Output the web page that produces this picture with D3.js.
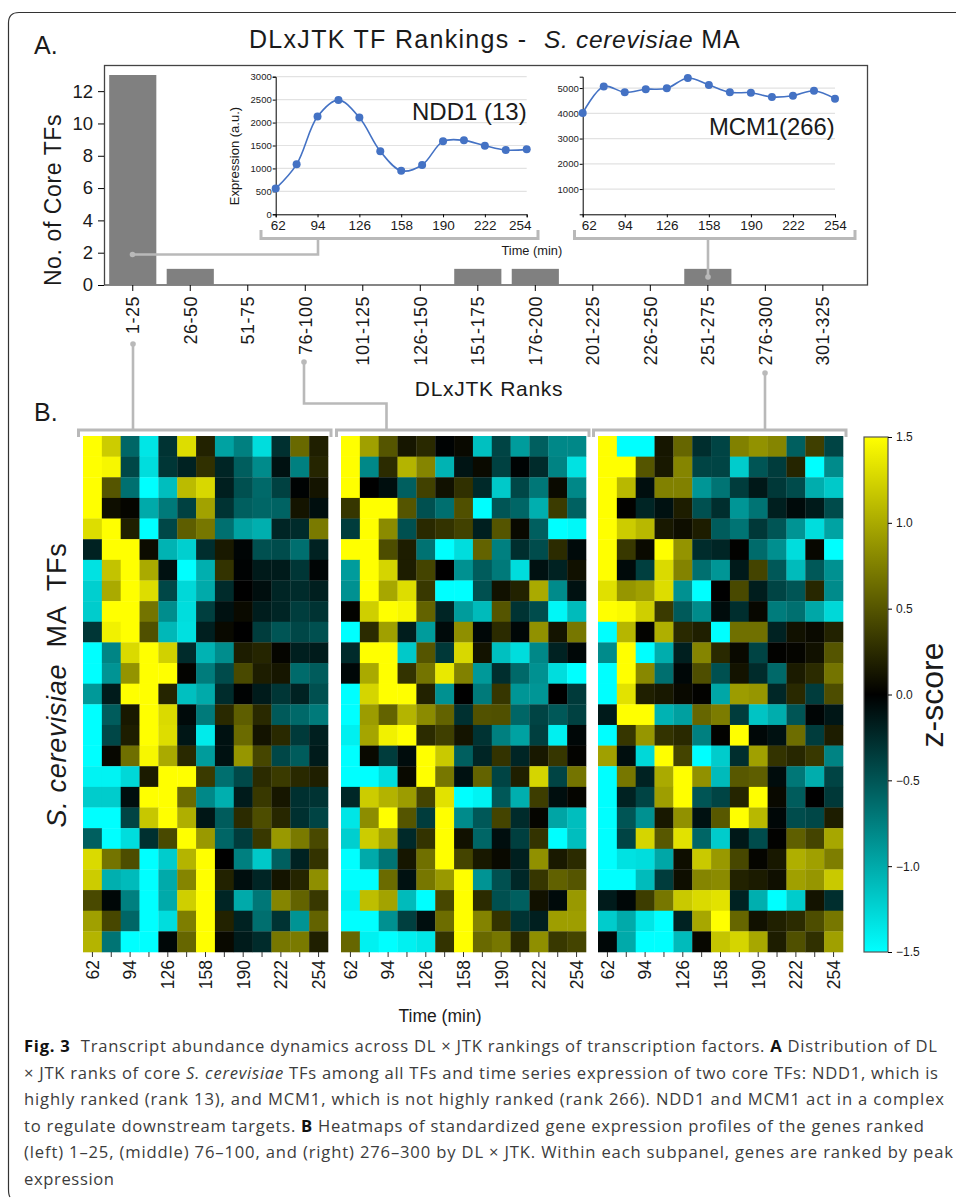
<!DOCTYPE html>
<html>
<head>
<meta charset="utf-8">
<script src="https://cdn.jsdelivr.net/npm/d3@7"></script>
<style>
	html, body { margin: 0; padding: 0; background: #fff; }
	svg { display: block; }
	text { font-family: "Liberation Sans", Arial, sans-serif; fill: #1a1a1a; }
	.caption text { font-family: "Open Sans", sans-serif; fill: #3c3c3c; font-size: 16.6px; }
</style>
</head>
<body>
<svg id="fig" width="956" height="1198"></svg>
<script>
var rankBins = ["1-25", "26-50", "51-75", "76-100", "101-125", "126-150", "151-175", "176-200", "201-225", "226-250", "251-275", "276-300", "301-325"];
var coreTFCounts = [13, 1, 0, 0, 0, 0, 1, 1, 0, 0, 1, 0, 0];

var times = [62, 78, 94, 110, 126, 142, 158, 174, 190, 206, 222, 238, 254];
var timeTicks = [62, 94, 126, 158, 190, 222, 254];
var ndd1Values = [560, 1090, 2130, 2490, 2110, 1375, 950, 1075, 1590, 1612, 1496, 1400, 1416];
var mcm1Values = [4010, 5065, 4830, 4950, 4990, 5400, 5120, 4830, 4815, 4645, 4695, 4895, 4580];
var ndd1Ticks = [0, 500, 1000, 1500, 2000, 2500, 3000];
var mcm1Ticks = [1000, 2000, 3000, 4000, 5000];
var zTicks = [-1.5, -1, -0.5, 0, 0.5, 1, 1.5];

var heatLeft = [
	[1.5, 1.2, -0.6, -1.35, -0.3, 1.3, 0.2, -0.95, -0.75, -1.3, -0.28, 0.62, 0.18],
	[1.5, 1.45, -0.42, -1.3, -0.32, -0.2, 0.28, -0.22, -0.55, -0.82, -0.1, -0.75, 0.22],
	[1.5, 0.5, -0.66, -1.5, -1.12, 1.1, 1.27, -0.18, -0.47, -0.62, -0.38, -0.02, 0.12],
	[1.5, 0.08, 0.03, -1, -0.72, -0.38, 0.95, -0.3, -0.56, -0.6, -0.58, 0.12, -0.08],
	[1.3, 1.5, 0.18, -1.5, -0.42, 0.55, 0.7, -0.66, -0.95, -1.03, -0.22, -0.25, 0.72],
	[-0.2, 1.5, 1.5, 0.07, -1.05, -1.22, -0.27, 0.15, -0.03, -0.47, -0.45, -0.65, -0.2],
	[-1.33, 1.15, 1.5, 1, -0.1, -1.5, -1.03, 0.3, -0.02, -0.15, -0.16, -0.32, -0.03],
	[-1.22, 1, 1.5, 1.3, -0.42, -1.27, -1, -0.25, 0, -0.08, -0.22, -0.25, -0.18],
	[-1.2, 1.5, 1.5, 0.68, -0.83, -1.3, -0.37, -0.1, 0.06, -0.17, -0.22, -0.36, -0.3],
	[-0.32, 1.42, 1.5, 0.47, -1.08, -1.32, -0.18, 0.05, 0, -0.36, -0.5, -0.42, -0.47],
	[-1.5, -0.78, 1.28, 1.5, 1.23, -0.25, -1.05, -0.83, 0.17, 0.22, 0.03, -0.18, -0.16],
	[-1.5, -0.87, 0.87, 1.5, 1.5, 0.02, -0.73, -0.44, 0.43, 0.17, 0.13, -0.63, -0.54],
	[-0.9, -0.16, 1.5, 1.5, 0.22, -1.13, -1, -0.26, -0.02, -0.16, -0.32, -0.2, -0.47],
	[-1.5, -0.54, 0.14, 1.5, 1.28, -0.06, -0.72, 0.24, 0.55, 0.24, -0.53, -0.62, -0.72],
	[-1.5, -0.42, 0.17, 1.5, 1.3, -0.13, -1.38, -0.1, 0.63, 0.11, 0.24, -0.34, -0.18],
	[-1.5, 0.04, 0.65, 1.45, 1, 0.24, -0.92, -0.1, 0.88, 0.41, -0.42, -0.54, -0.16],
	[-1.43, -1.43, -1.27, 0.16, 1.5, 1.5, 0.34, -0.65, -0.43, 0.25, 0.34, 0.24, 0.18],
	[-1.2, -1.2, -0.08, 1.5, 1.5, 0.63, -0.8, -1.03, -0.16, 0.33, 0.13, -0.28, -0.3],
	[-1.5, -1.5, -0.4, 1.17, 1.5, 1.03, -0.13, -0.54, 0.25, 0.45, 0.23, -0.28, -0.4],
	[-0.56, -1.5, -1.3, -0.28, 0.43, 1.5, 0.9, -0.6, -0.35, 0.33, 0.9, 0.72, 0.43],
	[1.28, 0.68, 0.45, -1.5, -1.2, 1.06, 1.5, 0, -0.75, -1.18, -0.56, -0.2, 0.3],
	[1.2, -1.03, -1.1, -1.5, -1, 0.78, 1.5, 0.2, -0.08, -0.22, 0.12, 0.22, 0.84],
	[0.43, -0.04, -0.75, -1.5, -1, 1.22, 1.5, -0.22, -1, -0.7, 0.78, 0.58, 0.33],
	[0.94, 0.42, -0.6, -1.5, -1.3, 0.74, 1.5, 0.2, -0.2, -0.65, -0.3, -0.87, 0.58],
	[1.06, -0.68, -1.5, -1.5, -0.04, 0.6, 1.5, 0.05, -0.16, -0.25, 0.7, 0.72, 0.18]
];

var heatMiddle = [
	[1.5, 0.94, 0.5, 0.13, 0.24, -0.02, 0.05, -1.13, -0.4, -0.92, -0.56, -0.8, -0.8],
	[1.5, -0.8, 0.25, 1.06, 0.78, -1.05, -0.12, 0.06, -0.38, -0.02, -0.25, -0.77, -1.33],
	[1.5, 0, -0.08, -0.56, 0.38, 0.1, 0.28, -0.24, -1.18, -0.42, -0.7, 0.06, -0.8],
	[0.32, 1.5, 1.5, 0.5, -0.47, -0.65, 0.47, -1.5, -0.5, -0.6, -1.03, 0.35, -0.57],
	[-0.35, 1.5, 0.82, -0.47, 0.24, 0.3, 0.38, -0.18, 0.5, 0.05, -0.56, -1.5, -1.46],
	[1.5, 1.5, 0.45, 0.17, -0.67, -1.5, -1.3, 0.58, -0.75, -0.27, -0.45, 0.25, -0.06],
	[-0.92, 1.5, 1.25, 0.17, 0.4, 0, -0.85, -0.54, -0.72, -1.3, -0.1, -0.2, 0.1],
	[-0.85, 1.5, 0.98, 1.3, 0.33, -1.5, -1.5, -0.47, 0.1, 0.2, 1, -0.82, -0.1],
	[0.02, 1.22, 1.5, 1.45, 0.58, -0.22, -0.92, -1.1, 0.5, -0.3, -0.45, -1.45, -1.1],
	[-1.5, 0.25, 0.94, -0.17, -0.92, -0.06, 0.84, -0.04, 0.25, -0.04, 0.85, 0.12, 0.7],
	[-0.25, 1.5, 1.5, -1.18, 0.5, -0.33, 1.27, 0.11, -1.13, -1.3, -0.8, -0.2, -0.04],
	[-0.04, 1, 1.5, 0.3, 0.68, 1.37, 0.76, -0.9, -0.27, -0.62, -0.85, -1.3, -1.5],
	[-1.5, 1.25, 1.5, 1.5, 0.2, -0.85, 0, -0.72, 0.32, -0.88, -0.88, 0, -0.34],
	[-1.5, 0.92, 0.58, 1.06, 0.82, 0.58, -0.28, 0.48, 0.47, -0.6, -0.4, -0.52, -0.38],
	[-1.41, 0.97, 1.42, 1.5, 0.25, 0.37, 0.12, -0.3, -0.75, -0.95, -0.37, -1.41, -0.04],
	[-1.5, 0.05, -0.35, -0.07, 1.5, 1.18, -0.56, -0.22, 0.3, -0.22, 0.14, 0.32, 0.02],
	[-1.5, -1.5, -1.3, 0.05, 1.5, 0.7, -0.1, 0.58, -0.4, 0.18, 1.25, -0.4, 0.68],
	[-0.23, 1.2, 1.05, 0.92, 0.4, 1.33, -1.5, -1.43, -0.52, -1.03, 0.36, -0.08, 0.03],
	[-1.35, 0.83, 1.5, 0.5, -0.35, 1.5, -0.82, -0.52, 0.4, -0.25, 0.03, -0.97, -1.12],
	[-1.22, 1.2, 0.96, -0.24, 0.3, 1.5, 0.1, -0.6, -0.08, -0.37, 0.3, -1.5, -1.12],
	[-1.5, -1, -0.68, 0.13, 0.66, 1.5, 0.4, 0.14, 0.05, -0.18, 0.85, 0.15, 0.25],
	[-1.5, -1.5, 0.63, -0.1, 0.7, 0.9, 1.5, -0.87, -0.47, -0.23, 0.32, 0.57, 0.5],
	[-1.42, 1.12, 0.96, -1.1, -1.5, 0.42, 1.5, 0.25, -0.47, -0.56, 0.1, -0.06, 0.9],
	[-1.5, -1.5, -0.85, -0.37, -0.08, 0.64, 1.5, 0.77, 0.3, -0.3, -0.18, 0.93, 0.93],
	[0.6, -1.42, -1.5, -1.42, -1.36, 0.3, 1.5, 0.62, 0.7, 0.24, 0.84, 0.33, 0.4]
];

var heatRight = [
	[1.5, -1.5, -1.5, 0.13, 0.6, -0.27, -0.4, 0.76, 0.86, 0.78, -0.56, 0.37, -0.4],
	[1.5, 1.5, 0.5, 0.14, 0.78, -0.4, -0.4, -1.2, -0.5, -0.35, 0.22, -1.5, -0.82],
	[1.5, 1.08, -0.08, 0.76, 0.76, -0.88, -0.68, -0.35, -0.14, -0.33, -0.44, -1.02, -1.18],
	[1.5, 0.01, -0.22, -0.1, 0.17, -0.47, -0.27, -0.88, -0.68, -0.18, -0.06, -0.15, -0.44],
	[1.5, 1.2, 1.08, 0.14, 0.08, 0.17, -0.54, -0.68, -0.33, -0.5, -0.87, -1.3, -0.96],
	[1.5, 0.33, 0.06, 1.5, 0.87, -0.26, -0.22, 0.01, -0.63, -0.84, -1.3, 0.04, -1.5],
	[1.5, -0.06, -0.37, 1.28, 0.77, -0.66, -0.88, -0.15, 0.4, -0.52, -1.1, -0.52, -0.85],
	[1.32, 0.88, 0.94, 1.3, -0.85, -1.5, 0, 0.43, -0.17, -0.4, -0.5, 0.23, -0.82],
	[1.5, 1.47, 1.22, 0.34, -0.53, -0.82, -0.07, -0.27, 0.04, -0.73, -0.66, -0.98, -1.27],
	[-1.5, 1.07, 0.02, 1.03, 0.24, 0.18, -1.5, 0.66, 0.66, -0.2, 0.1, 0.06, 0.2],
	[-0.82, 1.5, -1.5, -1.02, -0.18, 0.78, 0.24, 0.05, -0.4, 0.01, 0.03, 0.1, 0.5],
	[-1.5, 1.5, 0.8, -0.65, -0.04, 0.46, -0.47, 0.11, -0.25, -0.62, 0.16, 0.25, 0.68],
	[-1.5, 1.33, 0.18, 0.14, 0.05, 0.01, -0.98, 0.92, 0.88, -0.23, 0.24, -0.35, 0.45],
	[-0.15, 1.5, 1.5, -1.05, -0.94, 0.6, 0.73, -0.35, -1.15, -1.02, -0.5, -0.03, -0.13],
	[-1.5, 0.32, 0.88, 0.3, 0.24, -0.75, 0.01, 1.5, -0.04, -0.1, 0.64, -0.35, 0.17],
	[0.94, -0.08, -1.27, 1.5, 0.4, -1.5, -1.2, -0.27, 0.94, 0.3, 0.23, 0.33, -0.77],
	[-1.5, 0.7, -0.2, 1, 1.5, 0.85, -1.1, 0.52, 0.55, -0.07, -0.7, -1.02, -0.4],
	[-1.5, -0.2, -0.4, 0.93, 1.5, -0.5, -0.4, 0.22, 1.5, 0.05, -0.54, 0, -0.33],
	[-1.5, -0.5, -0.85, 0.14, 0.85, -0.1, 0.52, 1.5, 1.08, -0.04, -0.45, -0.42, 0.17],
	[-1.5, -0.4, 1.25, 0.52, 1.33, -0.6, -1.2, -0.14, -0.45, 0.01, 0.56, 0.4, 0.98],
	[-1.5, -1.33, -1.3, -0.98, 0.08, 1.18, 0.9, 0.42, 0.03, 0.14, 1.03, 0.94, 0.74],
	[-1.5, -1.5, -1.1, -0.35, 0.08, 0.78, 0.82, 0.2, 0.16, 0.09, 0.94, 0.88, 1.18],
	[-0.16, -0.04, 0.36, 0.7, 1.18, 1.28, 1.33, -0.2, -1.03, -1.5, -1.2, 0.11, -0.27],
	[-1.2, -1, -1.35, -1.5, -0.2, 0.98, 1.5, 0.6, 0.1, 0.19, 0.25, 0.45, 0.7],
	[-0.04, -1, -1.5, -1.5, -1.1, 0.04, 1.16, 1.25, 0.98, 0.17, 0.47, 0.28, 0.94]
];

var captionLines = [
	[["Fig. 3", "b"], ["  Transcript abundance dynamics across DL × JTK rankings of transcription factors. "], ["A", "b"], [" Distribution of DL"]],
	[["× JTK ranks of core "], ["S. cerevisiae", "i"], [" TFs among all TFs and time series expression of two core TFs: NDD1, which is"]],
	[["highly ranked (rank 13), and MCM1, which is not highly ranked (rank 266). NDD1 and MCM1 act in a complex"]],
	[["to regulate downstream targets. "], ["B", "b"], [" Heatmaps of standardized gene expression profiles of the genes ranked"]],
	[["(left) 1–25, (middle) 76–100, and (right) 276–300 by DL × JTK. Within each subpanel, genes are ranked by peak"]],
	[["expression"]]
];
var captionEnds = [937, 938, 944, 924, 953, 114];

var svg = d3.select("#fig");
var grey = "#b9b9b9";

// outer frame, runs off the right edge of the page
svg.append("path")
	.attr("d", "M956,12.5H19Q8.5,12.5 8.5,23V1189Q8.5,1195 10,1197")
	.attr("fill", "none")
	.attr("stroke", "#333")
	.attr("stroke-width", 1.2);

svg.append("text").attr("x", 34).attr("y", 54).attr("font-size", 25).text("A.");
svg.append("text").attr("x", 34).attr("y", 421).attr("font-size", 25).text("B.");

var title = svg.append("text")
	.attr("x", 249)
	.attr("y", 48)
	.attr("font-size", 25)
	.style("white-space", "pre");
title.append("tspan").style("letter-spacing", "1.3px").text("DLxJTK TF Rankings -  ");
title.append("tspan").attr("font-style", "italic").attr("font-size", 24.5).style("letter-spacing", "0.7px").text("S. cerevisiae");
title.append("tspan").style("letter-spacing", "1px").text(" MA");

// ---- bar chart
var xRank = d3.scaleBand().domain(rankBins).range([104, 851.6]).paddingInner(0.18).paddingOuter(0.09);
var yCount = d3.scaleLinear().domain([0, 13]).range([285, 75]);

svg.append("rect")
	.attr("x", 104.5)
	.attr("y", 65.5)
	.attr("width", 763)
	.attr("height", 219.5)
	.attr("fill", "none")
	.attr("stroke", "#444")
	.attr("stroke-width", 1.3);

svg.append("g").selectAll("rect")
	.data(rankBins)
	.enter()
	.append("rect")
	.attr("x", function(d) { return xRank(d); })
	.attr("y", function(d, i) { return yCount(coreTFCounts[i]); })
	.attr("width", xRank.bandwidth())
	.attr("height", function(d, i) { return yCount(0) - yCount(coreTFCounts[i]); })
	.attr("fill", "#808080");

var yCountAxis = svg.append("g")
	.attr("transform", "translate(104,0)")
	.call(d3.axisLeft(yCount).tickValues([0, 2, 4, 6, 8, 10, 12]).tickSize(6).tickPadding(5));
yCountAxis.select(".domain").remove();
yCountAxis.selectAll("text").attr("font-size", 18.5);

var xRankAxis = svg.append("g")
	.attr("transform", "translate(0,285)")
	.call(d3.axisBottom(xRank).tickSize(6));
xRankAxis.select(".domain").remove();
xRankAxis.selectAll("text")
	.attr("transform", "rotate(-90)")
	.attr("text-anchor", "end")
	.attr("x", -11)
	.attr("y", 0)
	.attr("dy", "0.36em")
	.attr("font-size", 18)
	.style("letter-spacing", "0.5px");

svg.append("text")
	.attr("transform", "translate(61,200) rotate(-90)")
	.attr("text-anchor", "middle")
	.attr("font-size", 23)
	.style("letter-spacing", "0.6px")
	.text("No. of Core TFs");

svg.append("text")
	.attr("x", 489)
	.attr("y", 396)
	.attr("text-anchor", "middle")
	.attr("font-size", 21)
	.style("letter-spacing", "0.7px")
	.text("DLxJTK Ranks");

// ---- insets
function drawInset(values, left, right, yMax, yTicks, labelShift) {
	var x = d3.scaleLinear().domain([62, 254]).range([left, right]);
	var y = d3.scaleLinear().domain([0, yMax]).range([214.3, 76.7]);
	var g = svg.append("g");

	g.append("g").selectAll("line")
		.data(yTicks.filter(function(d) { return d > 0; }))
		.enter()
		.append("line")
		.attr("x1", left)
		.attr("x2", right)
		.attr("y1", function(d) { return y(d); })
		.attr("y2", function(d) { return y(d); })
		.attr("stroke", "#e2e2e2")
		.attr("stroke-width", 1.2);

	var yAxis = g.append("g")
		.attr("transform", "translate(" + left + ",0)")
		.call(d3.axisLeft(y).tickValues(yTicks).tickFormat(d3.format("d")).tickSize(3).tickPadding(1));
	yAxis.selectAll("text").attr("font-size", 9.5).style("fill", "#222");

	var xAxis = g.append("g")
		.attr("transform", "translate(0,214.3)")
		.call(d3.axisBottom(x).tickValues(timeTicks).tickFormat(d3.format("d")).tickSize(3).tickPadding(3.5));
	xAxis.selectAll("text")
		.attr("font-size", 13.5)
		.attr("dx", function(d) { return labelShift[d] || 0; });

	var line = d3.line()
		.x(function(d, i) { return x(times[i]); })
		.y(function(d) { return y(d); })
		.curve(d3.curveCatmullRom);

	g.append("path")
		.attr("d", line(values))
		.attr("fill", "none")
		.attr("stroke", "#4472c4")
		.attr("stroke-width", 1.6);

	g.append("g").selectAll("circle")
		.data(values)
		.enter()
		.append("circle")
		.attr("cx", function(d, i) { return x(times[i]); })
		.attr("cy", function(d) { return y(d); })
		.attr("r", 4)
		.attr("fill", "#4472c4");
}

drawInset(ndd1Values, 275.7, 526.7, 3000, ndd1Ticks, { 62: 2, 254: -7 });
drawInset(mcm1Values, 582.7, 835, 5450, mcm1Ticks, { 62: 6 });

svg.append("text")
	.attr("transform", "translate(239,156) rotate(-90)")
	.attr("text-anchor", "middle")
	.attr("font-size", 13)
	.text("Expression (a.u.)");

svg.append("text").attr("x", 412).attr("y", 120).attr("font-size", 24).text("NDD1 (13)");
svg.append("text").attr("x", 709).attr("y", 135).attr("font-size", 23.8).text("MCM1(266)");
svg.append("text").attr("x", 501.5).attr("y", 255).attr("font-size", 12.8).text("Time (min)");

// ---- grey brackets and connectors
function bracket(x0, x1, yTop, yBottom) {
	svg.append("path")
		.attr("d", "M" + x0 + "," + yBottom + "V" + yTop + "H" + x1 + "V" + yBottom)
		.attr("fill", "none")
		.attr("stroke", grey)
		.attr("stroke-width", 3);
}
function connector(d, dotX, dotY) {
	svg.append("path")
		.attr("d", d)
		.attr("fill", "none")
		.attr("stroke", grey)
		.attr("stroke-width", 2.6);
	svg.append("circle")
		.attr("cx", dotX)
		.attr("cy", dotY)
		.attr("r", 2.8)
		.attr("fill", grey);
}

bracket(261, 538, 238.5, 230);
bracket(574.5, 855, 238.5, 230);
connector("M318,238.5V254.5H132.5", 132.5, 254.5);
connector("M708,238.5V277", 708, 277);

// ---- heatmaps
var z = d3.scaleLinear().domain([-1.5, 0, 1.5]).range(["#00ffff", "#000000", "#ffff00"]).clamp(true);
var panels = [
	{ values: heatLeft, left: 83, right: 328 },
	{ values: heatMiddle, left: 341, right: 586 },
	{ values: heatRight, left: 598, right: 843 }
];
var rowIds = d3.range(25);
var yRow = d3.scaleBand().domain(rowIds).range([436, 952]);

panels.forEach(function(panel) {
	var xTime = d3.scaleBand().domain(times).range([panel.left, panel.right]);
	var g = svg.append("g");

	g.selectAll("g")
		.data(panel.values)
		.enter()
		.append("g")
		.attr("transform", function(d, i) { return "translate(0," + yRow(i) + ")"; })
		.selectAll("rect")
		.data(function(d) { return d; })
		.enter()
		.append("rect")
		.attr("x", function(d, i) { return xTime(times[i]); })
		.attr("width", xTime.bandwidth() + 0.3)
		.attr("height", yRow.bandwidth() + 0.3)
		.attr("fill", function(d) { return z(d); });

	var axis = g.append("g")
		.attr("transform", "translate(0,952)")
		.call(d3.axisBottom(xTime).tickSize(5).tickFormat(function(d) { return timeTicks.indexOf(d) >= 0 ? d : ""; }));
	axis.select(".domain").remove();
	axis.selectAll("line").attr("stroke", "#333");
	axis.selectAll("text")
		.attr("transform", "rotate(-90)")
		.attr("text-anchor", "end")
		.attr("x", -8)
		.attr("y", 0)
		.attr("dy", "0.36em")
		.attr("font-size", 17.5);

	bracket(panel.left - 4.5, panel.right + 3, 430, 437);
});

connector("M133,430V344", 133, 344);
connector("M386.5,430V403.5H304V362", 304, 362);
connector("M765,430V373", 765, 373);

svg.append("text")
	.attr("x", 440)
	.attr("y", 1022)
	.attr("text-anchor", "middle")
	.attr("font-size", 17.5)
	.text("Time (min)");

var yTitle = svg.append("text")
	.attr("transform", "translate(66,685) rotate(-90)")
	.attr("text-anchor", "middle")
	.attr("font-size", 27)
	.style("letter-spacing", "0.7px")
	.style("white-space", "pre");
yTitle.append("tspan").attr("font-style", "italic").text("S. cerevisiae");
yTitle.append("tspan").text("  MA  TFs");

// ---- colour bar
var zBar = d3.scaleLinear().domain([-1.5, 1.5]).range([952, 437]);
var defs = svg.append("defs");
var gradient = defs.append("linearGradient")
	.attr("id", "zGradient")
	.attr("x1", 0).attr("y1", 1).attr("x2", 0).attr("y2", 0);
gradient.selectAll("stop")
	.data([-1.5, 0, 1.5])
	.enter()
	.append("stop")
	.attr("offset", function(d) { return (d + 1.5) / 3; })
	.attr("stop-color", function(d) { return z(d); });

svg.append("rect")
	.attr("x", 864)
	.attr("y", 437)
	.attr("width", 24)
	.attr("height", 515)
	.attr("fill", "url(#zGradient)")
	.attr("stroke", "#555")
	.attr("stroke-width", 1.2);

var zAxis = svg.append("g")
	.attr("transform", "translate(888,0)")
	.call(d3.axisRight(zBar).tickValues(zTicks).tickFormat(d3.format(".1f")).tickSize(4).tickPadding(4));
zAxis.select(".domain").remove();
zAxis.selectAll("text").attr("font-size", 12);

svg.append("text")
	.attr("transform", "translate(943,695) rotate(-90)")
	.attr("text-anchor", "middle")
	.attr("font-size", 32)
	.text("z-score");

// ---- caption
var caption = svg.append("g").attr("class", "caption");
captionLines.forEach(function(parts, i) {
	var line = caption.append("text")
		.attr("x", 24)
		.attr("y", 1052 + i * 26.6)
		.attr("textLength", captionEnds[i] - 24)
		.attr("lengthAdjust", "spacing")
		.style("white-space", "pre");
	parts.forEach(function(p) {
		line.append("tspan")
			.attr("font-weight", p[1] === "b" ? 700 : null)
			.attr("font-style", p[1] === "i" ? "italic" : null)
			.style("fill", p[1] === "b" ? "#111" : null)
			.text(p[0]);
	});
});
</script>
</body>
</html>
